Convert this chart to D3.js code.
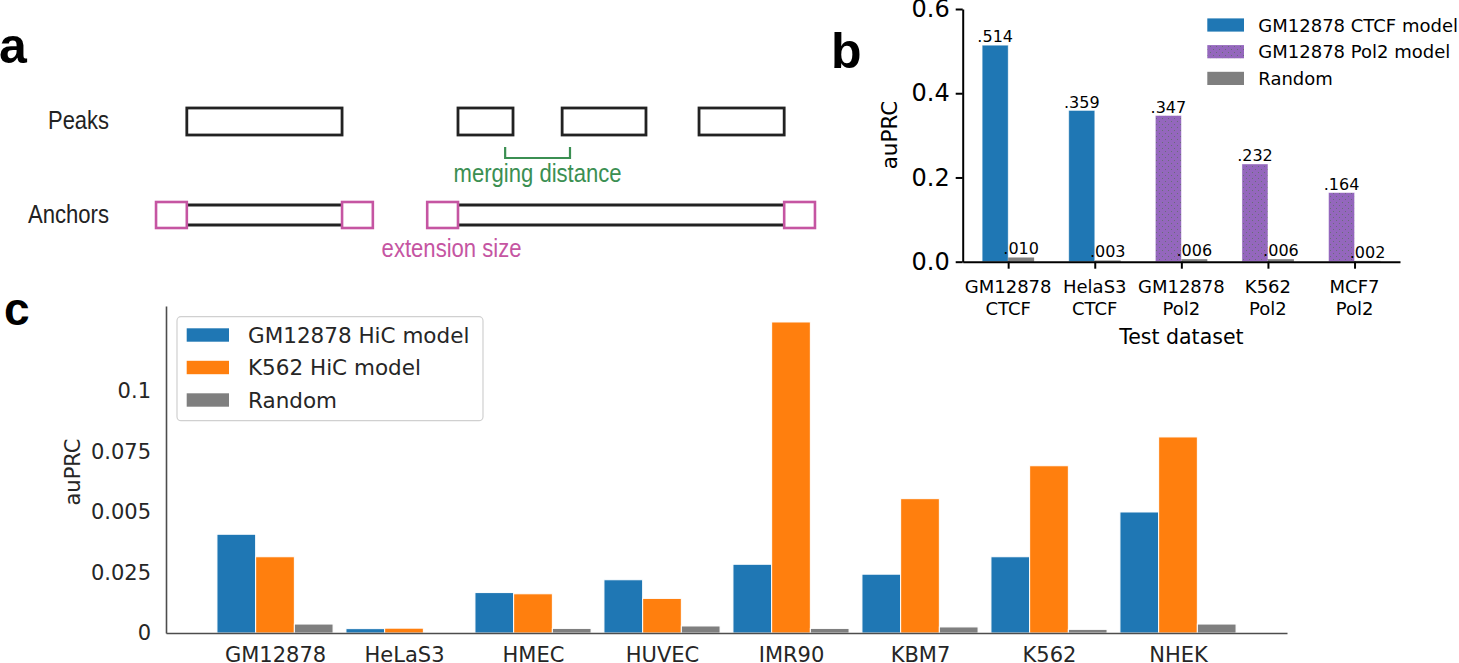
<!DOCTYPE html>
<html><head><meta charset="utf-8">
<script src="https://cdn.jsdelivr.net/npm/d3@7"></script>
<style>body{margin:0;background:#fff}</style>
</head><body><svg id="fig" width="1459" height="663"></svg>
<script>
// ---------- Panel a (schematic, genomic units 0..100) ----------
const peaks = [[4.4, 28.1], [45.8, 54.2], [61.7, 74.5], [82.6, 95.6]];
const mergingDistance = 9.9;
const extensionSize = 4.7;
const aRowLabels = ["Peaks", "Anchors"];

// ---------- Panel b ----------
const bCategories = [["GM12878", "CTCF"], ["HelaS3", "CTCF"], ["GM12878", "Pol2"], ["K562", "Pol2"], ["MCF7", "Pol2"]];
const bModelType = [0, 0, 1, 1, 1];
const bModel = [0.514, 0.359, 0.347, 0.232, 0.164];
const bRandom = [0.010, 0.003, 0.006, 0.006, 0.002];
const bModelLabels = [".514", ".359", ".347", ".232", ".164"];
const bRandomLabels = [".010", ".003", ".006", ".006", ".002"];
const bTicks = [0, 0.2, 0.4, 0.6];
const bTickLabels = ["0.0", "0.2", "0.4", "0.6"];
const bLegend = ["GM12878 CTCF model", "GM12878 Pol2 model", "Random"];

// ---------- Panel c ----------
const cCategories = ["GM12878", "HeLaS3", "HMEC", "HUVEC", "IMR90", "KBM7", "K562", "NHEK"];
const cGM12878 = [0.0408, 0.0018, 0.0167, 0.0220, 0.0284, 0.0243, 0.0315, 0.0500];
const cK562 = [0.0315, 0.0020, 0.0162, 0.0143, 0.1285, 0.0555, 0.0691, 0.0810];
const cRandom = [0.0037, 0.0000, 0.0019, 0.0029, 0.0019, 0.0025, 0.0015, 0.0037];
const cTicks = [0, 0.025, 0.05, 0.075, 0.1];
const cTickLabels = ["0", "0.025", "0.005", "0.075", "0.1"];
const cLegend = ["GM12878 HiC model", "K562 HiC model", "Random"];

const svg = d3.select("#fig");
svg.append("rect").attr("width", 1459).attr("height", 663).attr("fill", "#fff");

const BLUE = "#1f77b4", ORANGE = "#ff7f0e", GRAY = "#7f7f7f", PURPLE = "#9467bd";
const PINK = "#c555a2", GREEN = "#3b8f52";

// dotted texture for the purple (Pol2) bars
const defs = svg.append("defs");
const pat = defs.append("pattern").attr("id", "purpleDots").attr("patternUnits", "userSpaceOnUse")
  .attr("width", 6).attr("height", 6);
pat.append("rect").attr("width", 6).attr("height", 6).attr("fill", PURPLE);
[[1, 1], [4, 4]].forEach(([cx, cy]) => {
  pat.append("rect").attr("x", cx).attr("y", cy).attr("width", 1).attr("height", 1)
    .attr("fill", "#56705a").attr("fill-opacity", 0.7);
});
const PURPLE_FILL = "url(#purpleDots)";

// panel letters
const letterFont = "'Liberation Sans', Arial, sans-serif";
[["a", -1, 63, 50], ["b", 831, 68, 50], ["c", 4, 325, 46]].forEach(([t, x, y, s]) => {
  svg.append("text").attr("x", x).attr("y", y).attr("font-family", letterFont)
    .attr("font-weight", "bold").attr("font-size", s).attr("fill", "#000").text(t);
});

// ================= Panel a =================
{
  const g = svg.append("g");
  const xa = d3.scaleLinear().domain([0, 100]).range([158, 813]);
  const peakY = 121.5, peakH = 27, ancY = 215, ancH = 26, coreHalf = 10;
  const aFont = "'Liberation Sans', Arial, sans-serif";

  const rowY = [129, 223], rowW = [61, 81];
  aRowLabels.forEach((t, i) => {
    g.append("text").attr("x", 109).attr("y", rowY[i]).attr("text-anchor", "end")
      .attr("font-family", aFont).attr("font-size", 25).attr("fill", "#222")
      .attr("textLength", rowW[i]).attr("lengthAdjust", "spacingAndGlyphs").text(t);
  });

  g.selectAll("rect.peak").data(peaks).join("rect").attr("class", "peak")
    .attr("x", d => xa(d[0])).attr("y", peakY - peakH / 2)
    .attr("width", d => xa(d[1]) - xa(d[0])).attr("height", peakH)
    .attr("fill", "none").attr("stroke", "#222").attr("stroke-width", 2.8);

  // merge peaks closer than the merging distance into anchors
  const anchors = [];
  peaks.forEach(p => {
    const last = anchors[anchors.length - 1];
    if (last && p[0] - last[1] < mergingDistance) last[1] = p[1];
    else anchors.push([p[0], p[1]]);
  });

  const mid = (peaks[1][1] + peaks[2][0]) / 2;
  const b0 = xa(mid - mergingDistance / 2), b1 = xa(mid + mergingDistance / 2);
  g.append("path").attr("d", `M${b0},147 L${b0},158 L${b1},158 L${b1},147`)
    .attr("fill", "none").attr("stroke", GREEN).attr("stroke-width", 2.2);
  g.append("text").attr("x", (b0 + b1) / 2).attr("y", 182).attr("text-anchor", "middle")
    .attr("font-family", aFont).attr("font-size", 25).attr("fill", GREEN)
    .attr("textLength", 168).attr("lengthAdjust", "spacingAndGlyphs").text("merging distance");

  anchors.forEach(a => {
    [ancY - coreHalf, ancY + coreHalf].forEach(y => {
      g.append("line").attr("x1", xa(a[0])).attr("x2", xa(a[1])).attr("y1", y).attr("y2", y)
        .attr("stroke", "#222").attr("stroke-width", 2.8);
    });
    [[a[0] - extensionSize, a[0]], [a[1], a[1] + extensionSize]].forEach(e => {
      g.append("rect").attr("x", xa(e[0])).attr("y", ancY - ancH / 2)
        .attr("width", xa(e[1]) - xa(e[0])).attr("height", ancH)
        .attr("fill", "#fff").attr("stroke", PINK).attr("stroke-width", 2.6);
    });
  });
  g.append("text").attr("x", xa(anchors[1][0] - extensionSize / 2) + 9).attr("y", 257)
    .attr("text-anchor", "middle").attr("font-family", aFont).attr("font-size", 25)
    .attr("fill", PINK).attr("textLength", 140).attr("lengthAdjust", "spacingAndGlyphs")
    .text("extension size");
}

// ================= Panel b =================
{
  const g = svg.append("g");
  const font = "'DejaVu Sans', sans-serif";
  const xb = d3.scaleLinear().domain([-0.525, 4.525]).range([962.7, 1400]);
  const yb = d3.scaleLinear().domain([0, 0.6]).range([261.7, 9]);
  const modelColors = [BLUE, PURPLE_FILL];

  g.selectAll("rect.model").data(bModel).join("rect").attr("class", "model")
    .attr("x", (d, i) => xb(i - 0.3)).attr("width", xb(0.3) - xb(0))
    .attr("y", d => yb(d)).attr("height", d => yb(0) - yb(d))
    .attr("fill", (d, i) => modelColors[bModelType[i]])
    .attr("stroke", "#fff").attr("stroke-opacity", 0.5).attr("stroke-width", 0.8);
  g.selectAll("rect.rand").data(bRandom).join("rect").attr("class", "rand")
    .attr("x", (d, i) => xb(i)).attr("width", xb(0.3) - xb(0))
    .attr("y", d => yb(d)).attr("height", d => yb(0) - yb(d))
    .attr("fill", GRAY);

  g.selectAll("text.ml").data(bModel).join("text").attr("class", "ml")
    .attr("x", (d, i) => xb(i - 0.15)).attr("y", d => yb(d) - 3)
    .attr("text-anchor", "middle").attr("font-family", font).attr("font-size", 16)
    .attr("fill", "#000").text((d, i) => bModelLabels[i]);
  g.selectAll("text.rl").data(bRandom).join("text").attr("class", "rl")
    .attr("x", (d, i) => xb(i + 0.15)).attr("y", d => yb(d) - 3)
    .attr("text-anchor", "middle").attr("font-family", font).attr("font-size", 16)
    .attr("fill", "#000").text((d, i) => bRandomLabels[i]);

  const ay = g.append("g").attr("transform", `translate(${xb.range()[0]},0)`)
    .call(d3.axisLeft(yb).tickValues(bTicks).tickFormat((d, i) => bTickLabels[i])
      .tickSize(7).tickSizeOuter(0).tickPadding(6));
  const ax = g.append("g").attr("transform", `translate(0,${yb(0)})`)
    .call(d3.axisBottom(xb).tickValues(d3.range(bCategories.length)).tickFormat("")
      .tickSize(7).tickSizeOuter(0));
  [ay, ax].forEach(a => {
    a.select(".domain").attr("stroke", "#000").attr("stroke-width", 2);
    a.selectAll(".tick line").attr("stroke", "#000").attr("stroke-width", 2);
  });
  ay.selectAll(".tick text").attr("font-family", font).attr("font-size", 24).attr("fill", "#000");

  bCategories.forEach((c, i) => {
    c.forEach((line, j) => {
      g.append("text").attr("x", xb(i)).attr("y", 293 + j * 21.8).attr("text-anchor", "middle")
        .attr("font-family", font).attr("font-size", 18).attr("fill", "#000").text(line);
    });
  });
  g.append("text").attr("x", (xb.range()[0] + xb.range()[1]) / 2).attr("y", 343.5)
    .attr("text-anchor", "middle").attr("font-family", font).attr("font-size", 20.5)
    .attr("fill", "#000").text("Test dataset");
  g.append("text").attr("transform", "translate(897,135) rotate(-90)")
    .attr("text-anchor", "middle").attr("font-family", font).attr("font-size", 21.5)
    .attr("fill", "#000").text("auPRC");

  const legColors = [BLUE, PURPLE_FILL, GRAY];
  bLegend.forEach((t, i) => {
    const cy = 25 + i * 26.7;
    g.append("rect").attr("x", 1207.3).attr("y", cy - 6.6).attr("width", 36.7).attr("height", 13.2)
      .attr("fill", legColors[i]);
    g.append("text").attr("x", 1258.3).attr("y", cy + 6.6).attr("font-family", font)
      .attr("font-size", 18).attr("fill", "#000").text(t);
  });
}

// ================= Panel c =================
{
  const g = svg.append("g");
  const font = "'DejaVu Sans', sans-serif";
  const txt = "#262626", spine = "#4d4d4d";
  const xc = d3.scaleLinear().domain([-0.845, cCategories.length - 1 + 0.845]).range([166, 1287]);
  const yc = d3.scaleLinear().domain([0, 0.1351]).range([633, 306]);
  const series = [cGM12878, cK562, cRandom];
  const colors = [BLUE, ORANGE, GRAY];
  const bw = 0.3;

  series.forEach((s, k) => {
    g.selectAll(`rect.s${k}`).data(s).join("rect").attr("class", `s${k}`)
      .attr("x", (d, i) => xc(i - 0.45 + k * bw)).attr("width", xc(bw) - xc(0))
      .attr("y", d => yc(d)).attr("height", d => yc(0) - yc(d))
      .attr("fill", colors[k]).attr("stroke", "#fff").attr("stroke-width", 1);
  });

  const ay = g.append("g").attr("transform", `translate(${xc.range()[0]},0)`)
    .call(d3.axisLeft(yc).tickValues(cTicks).tickFormat((d, i) => cTickLabels[i])
      .tickSize(0).tickSizeOuter(0).tickPadding(15));
  const ax = g.append("g").attr("transform", `translate(0,${yc(0)})`)
    .call(d3.axisBottom(xc).tickValues(d3.range(cCategories.length))
      .tickFormat((d, i) => cCategories[i]).tickSize(0).tickSizeOuter(0).tickPadding(14));
  [ay, ax].forEach(a => {
    a.select(".domain").attr("stroke", spine).attr("stroke-width", 1.6);
    a.selectAll(".tick text").attr("font-family", font).attr("font-size", 21).attr("fill", txt);
  });
  ax.selectAll(".tick text").attr("dy", "0.71em");

  g.append("text").attr("transform", "translate(80,472) rotate(-90)")
    .attr("text-anchor", "middle").attr("font-family", font).attr("font-size", 21)
    .attr("fill", txt).text("auPRC");

  g.append("rect").attr("x", 177).attr("y", 316.7).attr("width", 306).attr("height", 104)
    .attr("rx", 4).attr("fill", "#fff").attr("fill-opacity", 0.8)
    .attr("stroke", "#d0d0d0").attr("stroke-width", 1.2);
  cLegend.forEach((t, i) => {
    const cy = 335 + i * 32.5;
    g.append("rect").attr("x", 186.7).attr("y", cy - 6.7).attr("width", 42.3).attr("height", 13.4)
      .attr("fill", colors[i]);
    g.append("text").attr("x", 248).attr("y", cy + 7.7).attr("font-family", font)
      .attr("font-size", 21.5).attr("fill", txt).text(t);
  });
}
</script>
</body></html>
